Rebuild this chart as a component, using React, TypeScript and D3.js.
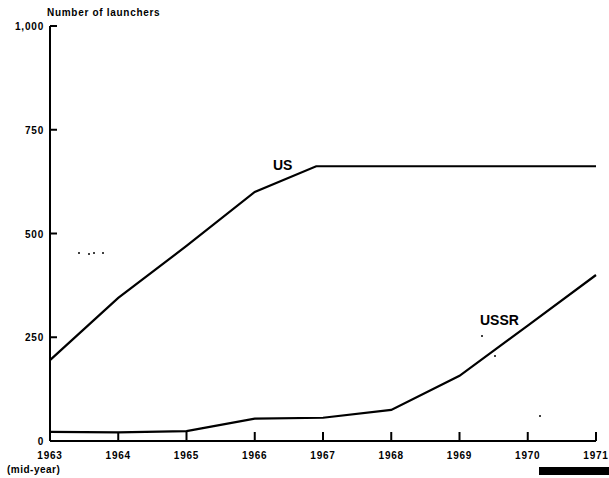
import React from "react";
import * as d3 from "d3";

// Launchers over time (mid-year values)
const usYears = [1963, 1964, 1965, 1966, 1966.9, 1971];
const usValues = [195, 345, 470, 600, 662, 662];

const ussrYears = [1963, 1964, 1965, 1965.4, 1966, 1967, 1968, 1969, 1970, 1971];
const ussrValues = [22, 21, 24, 36, 54, 56, 75, 157, 278, 400];

const yearTicks = [1963, 1964, 1965, 1966, 1967, 1968, 1969, 1970, 1971];
const valueTicks = [0, 250, 500, 750, 1000];

const width = 609;
const height = 478;

const x = d3.scaleLinear().domain([1963, 1971]).range([50, 596]);
const y = d3.scaleLinear().domain([0, 1000]).range([441, 26]);

const line = d3
  .line<[number, number]>()
  .x((d) => x(d[0]))
  .y((d) => y(d[1]));

const font = "'Liberation Sans', Arial, sans-serif";

export default function App() {
  const us = usYears.map((yr, i) => [yr, usValues[i]] as [number, number]);
  const ussr = ussrYears.map((yr, i) => [yr, ussrValues[i]] as [number, number]);
  const fmt = d3.format(",");

  return (
    <svg
      width={width}
      height={height}
      style={{ position: "fixed", left: 0, top: 0, background: "#fff" }}
      fontFamily={font}
      fontWeight="bold"
    >
      {/* title */}
      <text x={47} y={16} fontSize={10} letterSpacing={0.7}>
        Number of launchers
      </text>

      {/* y axis */}
      <line x1={x(1963)} x2={x(1963)} y1={y(1000)} y2={y(0)} stroke="#000" strokeWidth={2} />
      {valueTicks.map((v) => (
        <g key={v}>
          {v > 0 && (
            <line x1={x(1963)} x2={x(1963) + 7} y1={y(v)} y2={y(v)} stroke="#000" strokeWidth={2} />
          )}
          <text x={44} y={y(v) + 4} fontSize={10} textAnchor="end" letterSpacing={0.8}>
            {fmt(v)}
          </text>
        </g>
      ))}

      {/* x axis */}
      <line x1={x(1963)} x2={x(1971)} y1={y(0)} y2={y(0)} stroke="#000" strokeWidth={2} />
      {yearTicks.map((t) => (
        <g key={t}>
          {t > 1963 && (
            <line x1={x(t)} x2={x(t)} y1={y(0)} y2={y(0) - 9} stroke="#000" strokeWidth={2} />
          )}
          <text x={x(t)} y={459} fontSize={10} textAnchor="middle" letterSpacing={0.8}>
            {t}
          </text>
        </g>
      ))}
      <text x={7} y={473} fontSize={10} letterSpacing={0.5}>
        (mid-year)
      </text>

      {/* series */}
      <path d={line(us) ?? ""} fill="none" stroke="#000" strokeWidth={2.2} />
      <path d={line(ussr) ?? ""} fill="none" stroke="#000" strokeWidth={2.2} />

      <text x={273} y={170} fontSize={14}>
        US
      </text>
      <text x={480} y={325} fontSize={14}>
        USSR
      </text>

      {/* scan specks */}
      {[[79, 253], [89, 254], [94, 253], [103, 253], [482, 336], [495, 356], [540, 416]].map(
        ([cx, cy], i) => (
          <circle key={i} cx={cx} cy={cy} r={1} fill="#000" />
        )
      )}
      <rect x={539} y={467} width={70} height={8} fill="#000" />
    </svg>
  );
}
